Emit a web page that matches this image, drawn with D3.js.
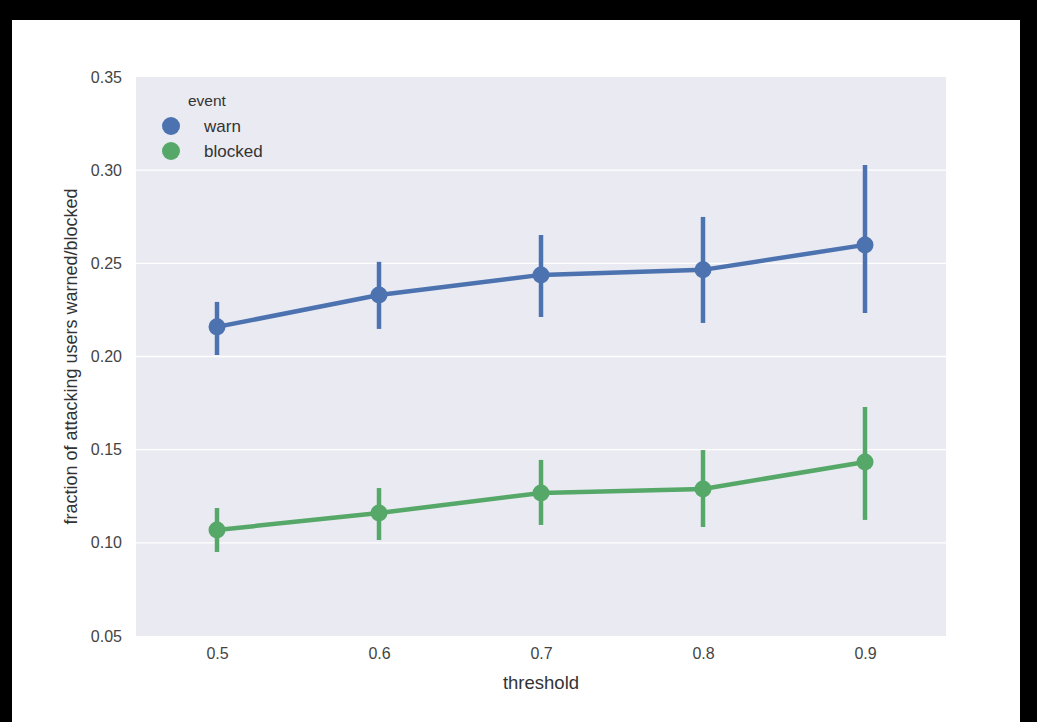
<!DOCTYPE html>
<html>
<head>
<meta charset="utf-8">
<script src="https://cdn.jsdelivr.net/npm/d3@7"></script>
<style>
  html, body { margin: 0; padding: 0; background: #000; }
  svg { display: block; }
  text { font-family: "Liberation Sans", Arial, sans-serif; }
</style>
</head>
<body>
<svg id="chart" width="1037" height="722"></svg>
<script>
const thresholds = ["0.5", "0.6", "0.7", "0.8", "0.9"];
const seriesNames = ["warn", "blocked"];
const warnMean = [0.2159, 0.2330, 0.2438, 0.2465, 0.2599];
const warnLow  = [0.2008, 0.2148, 0.2212, 0.2180, 0.2234];
const warnHigh = [0.2293, 0.2508, 0.2652, 0.2749, 0.3028];
const blockedMean = [0.1069, 0.1160, 0.1268, 0.1289, 0.1434];
const blockedLow  = [0.0951, 0.1015, 0.1096, 0.1085, 0.1123];
const blockedHigh = [0.1187, 0.1294, 0.1445, 0.1498, 0.1729];
const yTicks = [0.05, 0.10, 0.15, 0.20, 0.25, 0.30, 0.35];
const colors = ["#4C72B0", "#55A868"];

const series = [
  { name: seriesNames[0], mean: warnMean, low: warnLow, high: warnHigh, color: colors[0] },
  { name: seriesNames[1], mean: blockedMean, low: blockedLow, high: blockedHigh, color: colors[1] }
];

const svg = d3.select("#chart");
// frame
svg.append("rect").attr("x", 0).attr("y", 0).attr("width", 1037).attr("height", 722).attr("fill", "#000");
svg.append("rect").attr("x", 12).attr("y", 20).attr("width", 1008).attr("height", 702).attr("fill", "#fff");

const plot = { left: 136, right: 946, top: 77, bottom: 636 };

const x = d3.scalePoint().domain(thresholds).range([plot.left, plot.right]).padding(0.5);
const y = d3.scaleLinear().domain([0.05, 0.35]).range([plot.bottom, plot.top]);

svg.append("rect")
  .attr("x", plot.left).attr("y", plot.top)
  .attr("width", plot.right - plot.left).attr("height", plot.bottom - plot.top)
  .attr("fill", "#EAEAF2");

// y axis + grid
const yAxis = d3.axisLeft(y).tickValues(yTicks).tickFormat(d3.format(".2f")).tickSize(0).tickPadding(14);
const gy = svg.append("g").attr("transform", `translate(${plot.left},0)`).call(yAxis);
gy.select(".domain").remove();
gy.selectAll("text").attr("fill", "#444").style("font-size", "16px");

svg.append("g").selectAll("line").data(yTicks.slice(1, -1)).join("line")
  .attr("x1", plot.left).attr("x2", plot.right)
  .attr("y1", d => y(d)).attr("y2", d => y(d))
  .attr("stroke", "#fff").attr("stroke-width", 1.3);

const xAxis = d3.axisBottom(x).tickSize(0).tickPadding(12);
const gx = svg.append("g").attr("transform", `translate(0,${plot.bottom})`).call(xAxis);
gx.select(".domain").remove();
gx.selectAll("text").attr("fill", "#444").style("font-size", "16px");

// axis labels
svg.append("text")
  .attr("x", (plot.left + plot.right) / 2).attr("y", 689)
  .attr("text-anchor", "middle").attr("fill", "#333").style("font-size", "18.5px")
  .text("threshold");
svg.append("text")
  .attr("transform", `translate(77,${(plot.top + plot.bottom) / 2}) rotate(-90)`)
  .attr("text-anchor", "middle").attr("fill", "#333").style("font-size", "18px")
  .text("fraction of attacking users warned/blocked");

// series
const line = d3.line().x((d, i) => x(thresholds[i])).y(d => y(d));
series.forEach(s => {
  const g = svg.append("g");
  g.selectAll("line.err").data(thresholds).join("line")
    .attr("class", "err")
    .attr("x1", d => x(d)).attr("x2", d => x(d))
    .attr("y1", (d, i) => y(s.low[i])).attr("y2", (d, i) => y(s.high[i]))
    .attr("stroke", s.color).attr("stroke-width", 4.5);
  g.append("path").datum(s.mean)
    .attr("d", line).attr("fill", "none")
    .attr("stroke", s.color).attr("stroke-width", 4.5);
  g.selectAll("circle").data(s.mean).join("circle")
    .attr("cx", (d, i) => x(thresholds[i])).attr("cy", d => y(d))
    .attr("r", 8.5).attr("fill", s.color);
});

// legend
const lg = svg.append("g");
lg.append("text").attr("x", 188).attr("y", 106).attr("fill", "#333").style("font-size", "15.5px").text("event");
series.forEach((s, i) => {
  const cy = 126 + i * 25;
  lg.append("circle").attr("cx", 171).attr("cy", cy).attr("r", 9).attr("fill", s.color);
  lg.append("text").attr("x", 204).attr("y", cy + 6).attr("fill", "#333").style("font-size", "17px").text(s.name);
});
</script>
</body>
</html>
